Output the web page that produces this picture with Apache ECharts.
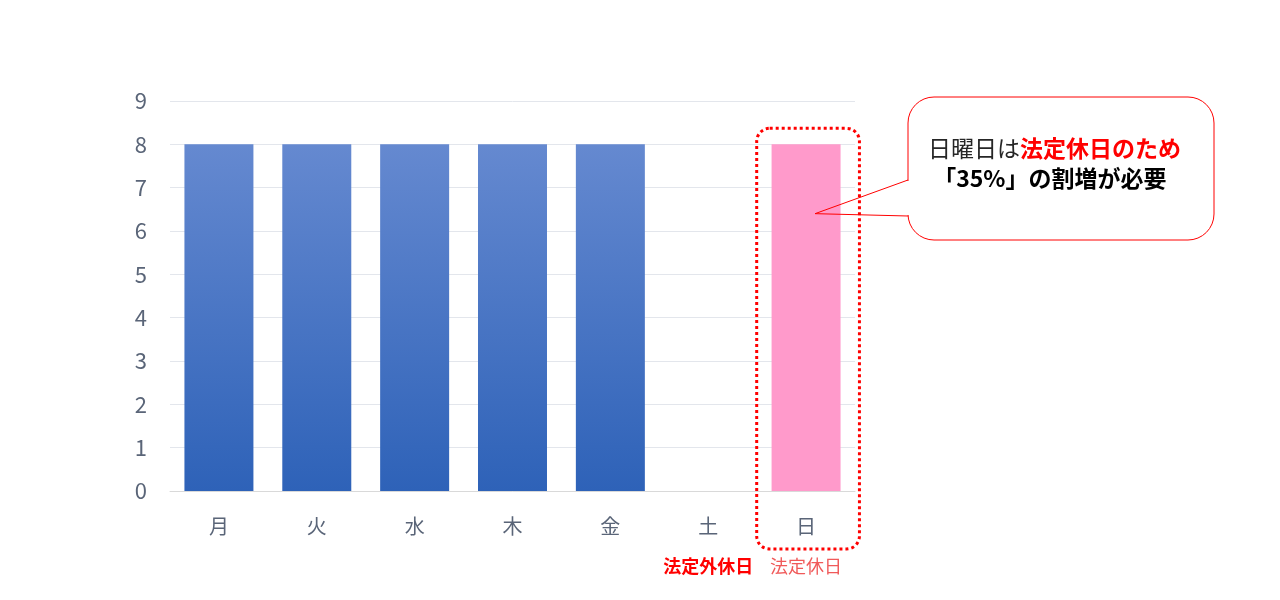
<!DOCTYPE html>
<html><head><meta charset="utf-8">
<script src="https://cdn.jsdelivr.net/npm/echarts@6/dist/echarts.min.js"></script>
<style>html,body{margin:0;padding:0;background:#fff}#c{width:1280px;height:600px}</style>
</head><body><div id="c"></div>
<script>
const categories = ['月','火','水','木','金','土','日'];
const hours = [8, 8, 8, 8, 8, 0, 8];
const subLabels = ['', '', '', '', '', '法定外休日', '法定休日'];
const subStyles = ['', '', '', '', '', 'bold', 'thin'];
const yTicks = [0, 9, 1];
const calloutLine1a = '日曜日は';
const calloutLine1b = '法定休日のため';
const calloutLine2 = '「35%」の割増が必要';

const FONT = '"Noto Sans CJK JP", "Noto Sans", sans-serif';
const chart = echarts.init(document.getElementById('c'));
const blueGrad = new echarts.graphic.LinearGradient(0, 0, 0, 1, [
  {offset: 0, color: '#6589d0'}, {offset: 1, color: '#2e62b8'}]);

const option = {
  animation: false,
  textStyle: {fontFamily: FONT},
  grid: {left: 170, right: 425, top: 101, bottom: 109},
  xAxis: {
    type: 'category', data: categories,
    axisLine: {show: true, lineStyle: {color: '#d9d9d9', width: 1}},
    axisTick: {show: false},
    axisLabel: {
      margin: 24, interval: 0,
      formatter: function (v, i) {
        const s = subLabels[i];
        return '{m|' + v + '}' + (s ? '\n{' + subStyles[i] + '|' + s + '}' : '');
      },
      rich: {
        m: {fontSize: 20, color: '#5a6578', fontFamily: FONT, lineHeight: 22},
        bold: {fontSize: 18, color: '#ff0000', fontWeight: 'bold', fontFamily: FONT, lineHeight: 58},
        thin: {fontSize: 18, color: '#f05a5a', fontFamily: FONT, lineHeight: 58}
      }
    }
  },
  yAxis: {
    type: 'value', min: yTicks[0], max: yTicks[1], interval: yTicks[2],
    axisLine: {show: false}, axisTick: {show: false},
    axisLabel: {fontSize: 22, color: '#5a6578', margin: 23, fontFamily: FONT},
    splitLine: {lineStyle: {color: '#e3e6ec', width: 1}}
  },
  series: [{
    type: 'bar', barWidth: '70.5%',
    data: hours.map(function (v, i) {
      return {value: v, itemStyle: {color: categories[i] === '日' ? '#ff9acb' : blueGrad}};
    })
  }]
};
chart.setOption(option);

// annotation shapes positioned from the axes
const iSun = categories.indexOf('日');
const pTop = chart.convertToPixel({gridIndex: 0}, [iSun, hours[iSun]]);
const pZero = chart.convertToPixel({gridIndex: 0}, [iSun, 0]);
const band = chart.convertToPixel({gridIndex: 0}, [1, 0])[0] - chart.convertToPixel({gridIndex: 0}, [0, 0])[0];
const bw = band * 1.05;
const boxX = pTop[0] - bw / 2 + 2, boxY = pTop[1] - 16, boxH = pZero[1] + 58 - boxY;

const tip = chart.convertToPixel({gridIndex: 0}, [iSun, 6.4]);
const tx = tip[0] + 9, ty = tip[1];
const L = 908, T = 97, R = 1214, B = 240, w1 = 180, w2 = 216;

chart.setOption({
  graphic: [
    {type: 'rect', shape: {x: boxX, y: boxY, width: bw, height: boxH, r: 13},
      style: {fill: 'none', stroke: '#ff0000', lineWidth: 3, lineDash: [3, 3]}, z: 10},
    {type: 'rect', shape: {x: L, y: T, width: R - L, height: B - T, r: 26},
      style: {fill: '#ffffff', stroke: '#ff0000', lineWidth: 1}, z: 10},
    {type: 'line', shape: {x1: L, y1: w1 + 1, x2: L, y2: w2 - 1},
      style: {stroke: '#ffffff', lineWidth: 3}, z: 11},
    {type: 'polyline', shape: {points: [[L, w1], [tx, ty], [L, w2]]},
      style: {stroke: '#ff0000', lineWidth: 1, fill: null}, z: 11},
    {type: 'text', left: 928, top: 137, z: 12,
      style: {
        text: '{a|' + calloutLine1a + '}{b|' + calloutLine1b + '}\n{c| ' + calloutLine2 + '}',
        rich: {
          a: {fontSize: 23, fill: '#262626', fontFamily: FONT, lineHeight: 30},
          b: {fontSize: 23, fill: '#ff0000', fontWeight: 'bold', fontFamily: FONT, lineHeight: 30},
          c: {fontSize: 23, fill: '#000000', fontWeight: 'bold', fontFamily: FONT, lineHeight: 30}
        }
      }}
  ]
});
</script></body></html>
